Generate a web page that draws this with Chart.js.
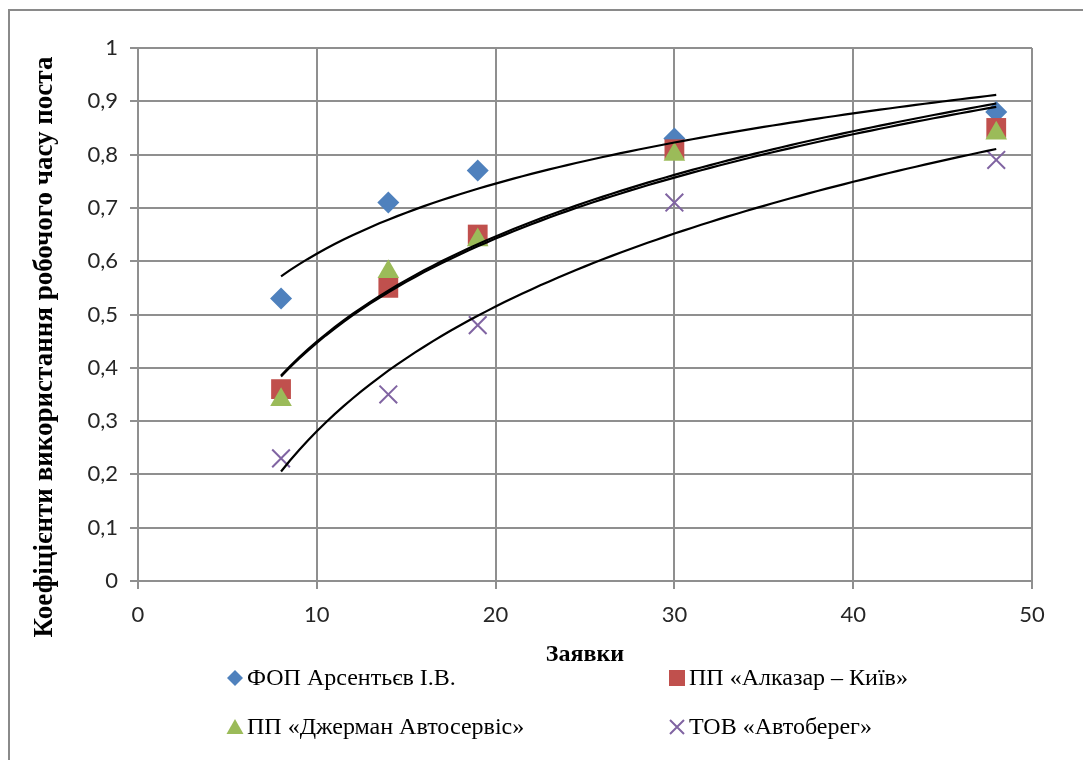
<!DOCTYPE html>
<html>
<head>
<meta charset="utf-8">
<script src="https://cdn.jsdelivr.net/npm/chart.js@4.4.0/dist/chart.umd.min.js"></script>
<style>
  html, body { margin: 0; padding: 0; background: #fff; }
  canvas { display: block; }
</style>
</head>
<body>
<canvas id="chart" width="1083" height="760"></canvas>
<script>
// values
const requests = [8, 14, 19, 30, 48];
const seriesNames = ["ФОП Арсентьєв І.В.", "ПП «Алказар – Київ»", "ПП «Джерман Автосервіс»", "ТОВ «Автоберег»"];
const arsentiev = [0.53, 0.71, 0.77, 0.83, 0.88];
const alkazar = [0.36, 0.55, 0.65, 0.81, 0.85];
const german = [0.34, 0.58, 0.64, 0.80, 0.84];
const avtobereg = [0.23, 0.35, 0.48, 0.71, 0.79];
const xTicks = [0, 10, 20, 30, 40, 50];
const yTicks = [0, 0.1, 0.2, 0.3, 0.4, 0.5, 0.6, 0.7, 0.8, 0.9, 1];
const xTitle = "Заявки";
const yTitle = "Коефіцієнти використання робочого часу поста";

const gridColor = "#8f8f8f";
const serif = "'Liberation Serif', 'Times New Roman', serif";

// logarithmic trend line (least squares on ln x), like the spreadsheet one
const logTrend = (xs, ys) => {
  const lx = xs.map(Math.log);
  const n = xs.length;
  const mx = lx.reduce((a, b) => a + b, 0) / n;
  const my = ys.reduce((a, b) => a + b, 0) / n;
  let sxy = 0, sxx = 0;
  lx.forEach((v, i) => {
    sxy += (v - mx) * (ys[i] - my);
    sxx += (v - mx) * (v - mx);
  });
  const a = sxy / sxx;
  const b = my - a * mx;
  const x0 = xs[0], x1 = xs[n - 1];
  const pts = [];
  for (let i = 0; i <= 80; i++) {
    const x = x0 + (x1 - x0) * i / 80;
    pts.push({ x, y: a * Math.log(x) + b });
  }
  return pts;
};

const toPoints = (ys) => ys.map((y, i) => ({ x: requests[i], y }));

const series = [
  { name: seriesNames[0], values: arsentiev, style: "rectRot", radius: 11, color: "#4F81BD", order: 4 },
  { name: seriesNames[1], values: alkazar, style: "rect", radius: 14, color: "#C0504D", order: 3 },
  { name: seriesNames[2], values: german, style: "triangle", radius: 12.5, color: "#9BBB59", order: 2 },
  { name: seriesNames[3], values: avtobereg, style: "crossRot", radius: 12.5, color: "#8064A2", order: 1 },
];

const datasets = [];
series.forEach((s) => {
  datasets.push({
    label: s.name,
    data: toPoints(s.values),
    pointStyle: s.style,
    pointRadius: s.radius,
    backgroundColor: s.color,
    borderColor: s.color,
    pointBorderWidth: s.style === "crossRot" ? 2 : 0,
    order: s.order,
  });
});
series.forEach((s) => {
  datasets.push({
    label: "trend " + s.name,
    data: logTrend(requests, s.values),
    showLine: true,
    borderColor: "#000",
    borderWidth: 2.2,
    pointRadius: 0,
    fill: false,
    order: 0,
  });
});

// legend marker, drawn by hand so the two columns line up like the original
const drawMarker = (ctx, style, color, x, y) => {
  ctx.save();
  ctx.fillStyle = color;
  ctx.strokeStyle = color;
  ctx.beginPath();
  if (style === "rectRot") {
    ctx.moveTo(x - 8, y); ctx.lineTo(x, y - 8); ctx.lineTo(x + 8, y); ctx.lineTo(x, y + 8);
    ctx.closePath(); ctx.fill();
  } else if (style === "rect") {
    ctx.fillRect(x - 8, y - 8, 16, 16);
  } else if (style === "triangle") {
    ctx.moveTo(x, y - 8); ctx.lineTo(x + 8.5, y + 7); ctx.lineTo(x - 8.5, y + 7);
    ctx.closePath(); ctx.fill();
  } else {
    ctx.lineWidth = 2;
    ctx.moveTo(x - 7, y - 7); ctx.lineTo(x + 7, y + 7);
    ctx.moveTo(x + 7, y - 7); ctx.lineTo(x - 7, y + 7);
    ctx.stroke();
  }
  ctx.restore();
};

const legendSpots = [
  { x: 235, y: 678 }, { x: 677, y: 678 },
  { x: 235, y: 727 }, { x: 677, y: 727 },
];

const decor = {
  id: "decor",
  beforeDraw(chart) {
    const ctx = chart.ctx;
    ctx.save();
    ctx.fillStyle = "#fff";
    ctx.fillRect(0, 0, chart.width, chart.height);
    ctx.strokeStyle = "#8a8a8a";
    ctx.lineWidth = 2;
    ctx.strokeRect(9, 10, chart.width + 20, chart.height + 20);
    ctx.restore();
  },
  afterDraw(chart) {
    const ctx = chart.ctx;
    const area = chart.chartArea;
    ctx.save();
    ctx.fillStyle = "#000";
    // axis titles
    ctx.font = "bold 24px " + serif;
    ctx.textAlign = "center";
    ctx.textBaseline = "middle";
    ctx.fillText(xTitle, (area.left + area.right) / 2, 655);
    ctx.save();
    ctx.translate(45, 347);
    ctx.rotate(-Math.PI / 2);
    ctx.font = "bold 27px " + serif;
    ctx.fillText(yTitle, 0, 0);
    ctx.restore();
    // legend
    ctx.font = "24px " + serif;
    ctx.textAlign = "left";
    series.forEach((s, i) => {
      const p = legendSpots[i];
      drawMarker(ctx, s.style, s.color, p.x, p.y);
      ctx.fillStyle = "#000";
      ctx.fillText(s.name, p.x + 12, p.y + 1);
    });
    ctx.restore();
  },
};

const fmt = (v) => String(Math.round(v * 10) / 10).replace(".", ",");

new Chart(document.getElementById("chart"), {
  type: "scatter",
  data: { datasets },
  plugins: [decor],
  options: {
    responsive: false,
    animation: false,
    events: [],
    layout: { padding: { top: 48, right: 51, left: 0, bottom: 0 } },
    plugins: { legend: { display: false }, tooltip: { enabled: false } },
    scales: {
      x: {
        type: "linear",
        min: 0,
        max: 50,
        afterFit: (s) => { s.height = 179; },
        afterBuildTicks: (s) => { s.ticks = xTicks.map((v) => ({ value: v })); },
        grid: { color: gridColor, lineWidth: 2, tickLength: 8, tickColor: gridColor },
        border: { color: gridColor, width: 2 },
        ticks: { font: { family: "Lato", size: 22 }, color: "#262626", padding: 13, callback: (v) => fmt(v) },
      },
      y: {
        min: 0,
        max: 1,
        afterFit: (s) => { s.width = 138; },
        afterBuildTicks: (s) => { s.ticks = yTicks.map((v) => ({ value: v })); },
        grid: { color: gridColor, lineWidth: 2, tickLength: 8, tickColor: gridColor },
        border: { color: gridColor, width: 2 },
        ticks: { font: { family: "Lato", size: 22 }, color: "#262626", padding: 12, callback: (v) => fmt(v) },
      },
    },
  },
});
</script>
</body>
</html>
